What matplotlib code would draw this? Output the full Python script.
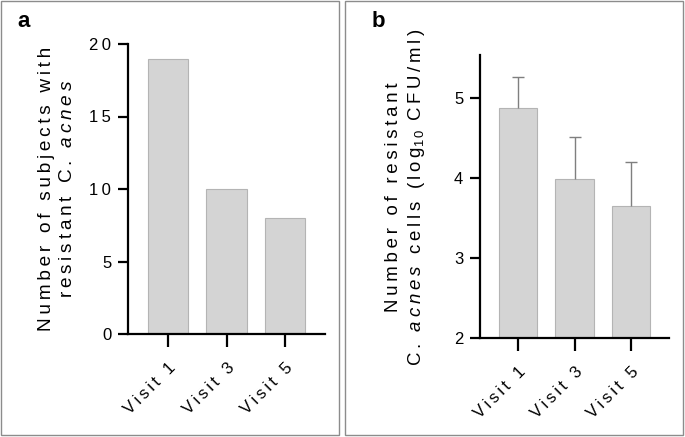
import matplotlib
matplotlib.use('Agg')
import matplotlib.pyplot as plt
from matplotlib.patches import Rectangle

plt.rcParams['font.family'] = ['Liberation Sans', 'DejaVu Sans']
plt.rcParams['mathtext.fontset'] = 'custom'
plt.rcParams['mathtext.rm'] = 'Liberation Sans'
plt.rcParams['mathtext.it'] = 'Liberation Sans:italic'

# data
visits = ['Visit 1', 'Visit 3', 'Visit 5']
n_subjects = [19, 10, 8]
log_cfu = [4.88, 3.99, 3.65]
log_cfu_err = [0.38, 0.53, 0.55]

W, H = 685, 437
fig = plt.figure(figsize=(W / 100, H / 100), dpi=100)
THIN = '\u2009'


def ls(s):
    # wide letter spacing like the original (Prism export)
    return THIN.join(s)


def ls_it(s):
    # italic letters, spaced
    return THIN.join(r'$\it{%s}$' % c for c in s)


def px_axes(left, right, top, bottom):
    return fig.add_axes([left / W, (H - bottom) / H, (right - left) / W, (bottom - top) / H])


def style(ax, yticks):
    for s in ['top', 'right']:
        ax.spines[s].set_visible(False)
    for s in ['left', 'bottom']:
        ax.spines[s].set_linewidth(1.6)
    ax.tick_params(axis='y', length=7, width=1.6, labelsize=12, pad=5)
    ax.tick_params(axis='x', length=9.5, width=1.6, labelsize=12, pad=9)
    ax.set_yticks(yticks)
    ax.set_yticklabels([ls(str(t)) for t in yticks])
    ax.set_xticks(range(len(visits)))
    ax.set_xticklabels([ls(v) for v in visits], rotation=45, ha='right', rotation_mode='anchor')


# panel frames
fig.add_artist(Rectangle((1 / W, 2 / H), 338 / W, 434 / H, transform=fig.transFigure,
                         fill=False, edgecolor='#8c8c8c', lw=1))
fig.add_artist(Rectangle((345 / W, 2 / H), 338 / W, 434 / H, transform=fig.transFigure,
                         fill=False, edgecolor='#8c8c8c', lw=1))

# panel a
ax1 = px_axes(128, 325, 44, 334)
ax1.bar(range(len(visits)), n_subjects, width=0.69, color='#d4d4d4', edgecolor='#b4b4b4', lw=0.8)
ax1.set_xlim(-0.69, 2.69)
ax1.set_ylim(0, 20)
style(ax1, [0, 5, 10, 15, 20])
label_a = ls('Number of subjects with') + '\n' + ls('resistant C. ') + THIN + ls_it('acnes')
fig.text(57 / W, (H - 189) / H, label_a, rotation=90, ha='center', va='center',
         multialignment='center', fontsize=13.7, linespacing=1.3)
fig.text(17 / W, (H - 27) / H, 'a', fontsize=16, fontweight='bold')

# panel b
ax2 = px_axes(480, 669, 55, 338)
xb = list(range(len(visits)))
tops = [v + e for v, e in zip(log_cfu, log_cfu_err)]
ax2.bar(xb, log_cfu, width=0.68, color='#d4d4d4', edgecolor='#b4b4b4', lw=0.8)
ax2.vlines(xb, log_cfu, tops, color='#7f7f7f', lw=1)
ax2.plot(xb, tops, ls='none', marker='_', ms=8, mew=1, color='#7f7f7f')
ax2.set_xlim(-0.68, 2.68)
ax2.set_ylim(2, 5.54)
style(ax2, [2, 3, 4, 5])
label_b = (ls('Number of resistant') + '\n' + ls('C. ') + THIN + ls_it('acnes') + THIN
           + ls(' cells (log') + r'$_{1\,0}$' + ls(' CFU/ml)'))
fig.text(406 / W, (H - 197) / H, label_b, rotation=90, ha='center', va='center',
         multialignment='center', fontsize=13.4, linespacing=1.25)
fig.text(372 / W, (H - 27) / H, 'b', fontsize=16, fontweight='bold')

fig.savefig('out.png', dpi=100)
